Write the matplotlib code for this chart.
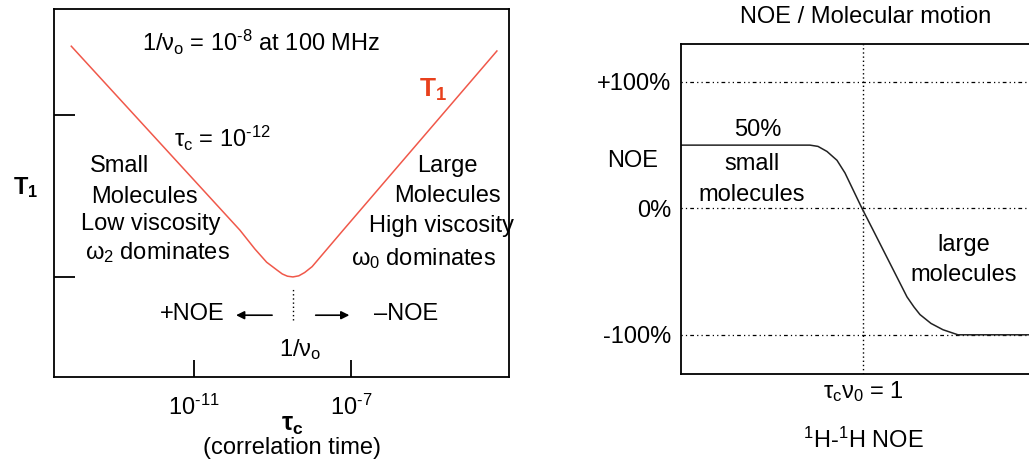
import matplotlib.pyplot as plt

plt.rcParams['font.family'] = ['Liberation Sans', 'DejaVu Sans']
plt.rcParams['mathtext.fontset'] = 'custom'
plt.rcParams['mathtext.rm'] = 'Liberation Sans'
plt.rcParams['mathtext.it'] = 'Liberation Sans'
plt.rcParams['mathtext.bf'] = 'Liberation Sans:bold'

# left panel: T1 vs log10(tau_c)
t1_logtau = [-14.13, -9.83, -9.45, -9.15, -8.89, -8.75, -8.62, -8.48, -8.33, -8.18, -7.99, -7.20, -3.28]
t1_value = [8.99, 3.99, 3.48, 3.12, 2.91, 2.80, 2.74, 2.72, 2.75, 2.84, 3.00, 3.99, 8.86]
t1_xticks = [-11, -7]
t1_xticklabels = [r'10$^{\text{-11}}$', r'10$^{\text{-7}}$']
t1_yticks = [2.72, 7.12]

# right panel: NOE vs tau_c*nu_0 (arbitrary log units, 0 = tau_c*nu_0 = 1)
noe_x = [-3.64, -1.06, -0.90, -0.72, -0.52, -0.36, -0.02, 0.20, 0.88, 1.02, 1.14, 1.36, 1.60, 1.90, 3.60]
noe_y = [50, 50, 49, 45, 38, 28, 0, -17, -70, -78, -84, -91, -96, -100, -100]
noe_yticks = [100, 0, -100]
noe_yticklabels = ['+100%', '0%', '-100%']

FS = 17
fig = plt.figure(figsize=(10.29, 4.59), dpi=100)

# ---- left panel
ax1 = fig.add_axes([0.0525, 0.1786, 0.4422, 0.8017])
ax1.plot(t1_logtau, t1_value, color='#f0584a', lw=1.1)
ax1.set_xlim(-14.57, -2.97)
ax1.set_ylim(0, 10)
ax1.set_xticks(t1_xticks)
ax1.set_xticklabels(t1_xticklabels, fontsize=FS)
ax1.set_yticks(t1_yticks)
ax1.set_yticklabels([])
ax1.tick_params(axis='x', direction='in', length=12, width=1.3, pad=13)
ax1.tick_params(axis='y', direction='in', length=15, width=1.3)
for s in ax1.spines.values():
    s.set_linewidth(1.3)

ax1.text(-9.29, 9.08, r'1/$\nu_{\rm o}$ = 10$^{\text{-8}}$ at 100 MHz', fontsize=FS, ha='center', va='center')
ax1.text(-10.29, 6.49, r'$\tau_{\rm c}$ = 10$^{\text{-12}}$', fontsize=FS, ha='center', va='center')
ax1.text(-4.91, 7.8, r'T$_{\mathbf{1}}$', fontsize=FS + 2, color='#e8401c', fontweight='bold',
         ha='center', va='center')
for txt, x, y in [('Small', -12.89, 5.73), ('Molecules', -12.27, 4.89),
                  ('Low viscosity', -12.10, 4.16), (r'$\omega_2$ dominates', -11.94, 3.37),
                  ('Large', -4.55, 5.73), ('Molecules', -4.55, 4.92),
                  ('High viscosity', -4.68, 4.10), (r'$\omega_0$ dominates', -5.14, 3.21),
                  ('+NOE', -11.05, 1.71), ('\u2013NOE', -5.6, 1.71),
                  (r'1/$\nu_{\rm o}$', -8.3, 0.76)]:
    ax1.text(x, y, txt, fontsize=FS, ha='center', va='center')

ax1.plot([-8.48, -8.48], [1.55, 2.45], color='black', lw=1, ls=(0, (1, 2)))
ax1.annotate('', xy=(-10.0, 1.68), xytext=(-8.94, 1.68),
             arrowprops=dict(arrowstyle='-|>', color='black', lw=1.2, mutation_scale=12))
ax1.annotate('', xy=(-6.97, 1.68), xytext=(-7.97, 1.68),
             arrowprops=dict(arrowstyle='-|>', color='black', lw=1.2, mutation_scale=12))

fig.text(0.0253, 0.5904, r'T$_{\mathbf{1}}$', fontsize=FS, fontweight='bold', ha='center', va='center')
fig.text(0.2838, 0.0741, r'$\mathbf{\tau_c}$', fontsize=FS + 1, ha='center', va='center')
fig.text(0.2838, 0.024, '(correlation time)', fontsize=FS, ha='center', va='center')

# ---- right panel
ax2 = fig.add_axes([0.6618, 0.1852, 0.344, 0.719])
ax2.plot(noe_x, noe_y, color='#222222', lw=1.1)
ax2.set_xlim(-3.64, 3.44)
ax2.set_ylim(-131, 130)
ax2.set_xticks([])
ax2.set_yticks(noe_yticks)
ax2.set_yticklabels(noe_yticklabels, fontsize=FS)
ax2.tick_params(axis='y', length=0, pad=7)
ax2.spines['right'].set_visible(False)
for s in ax2.spines.values():
    s.set_linewidth(1.3)
grid_ls = (0, (1, 2.5, 1, 2.5, 3, 2.5))
for v in noe_yticks:
    ax2.axhline(v, color='black', lw=0.9, ls=grid_ls, zorder=0)
ax2.axvline(0, color='black', lw=1, ls=(0, (1, 2)), zorder=0)

fig.text(0.8416, 0.963, 'NOE / Molecular motion', fontsize=FS, ha='center', va='center')
fig.text(0.615, 0.649, 'NOE', fontsize=FS, ha='center', va='center')
fig.text(0.7366, 0.7168, '50%', fontsize=FS, ha='center', va='center')
fig.text(0.7308, 0.6427, 'small', fontsize=FS, ha='center', va='center')
fig.text(0.7308, 0.5752, 'molecules', fontsize=FS, ha='center', va='center')
fig.text(0.9368, 0.4662, 'large', fontsize=FS, ha='center', va='center')
fig.text(0.9368, 0.4009, 'molecules', fontsize=FS, ha='center', va='center')
fig.text(0.8387, 0.146, r'$\tau_{\rm c}\nu_0$ = 1', fontsize=FS, ha='center', va='center')
fig.text(0.8387, 0.0414, '$^1$H-$^1$H NOE', fontsize=FS, ha='center', va='center')

fig.savefig('out.png', dpi=100)
